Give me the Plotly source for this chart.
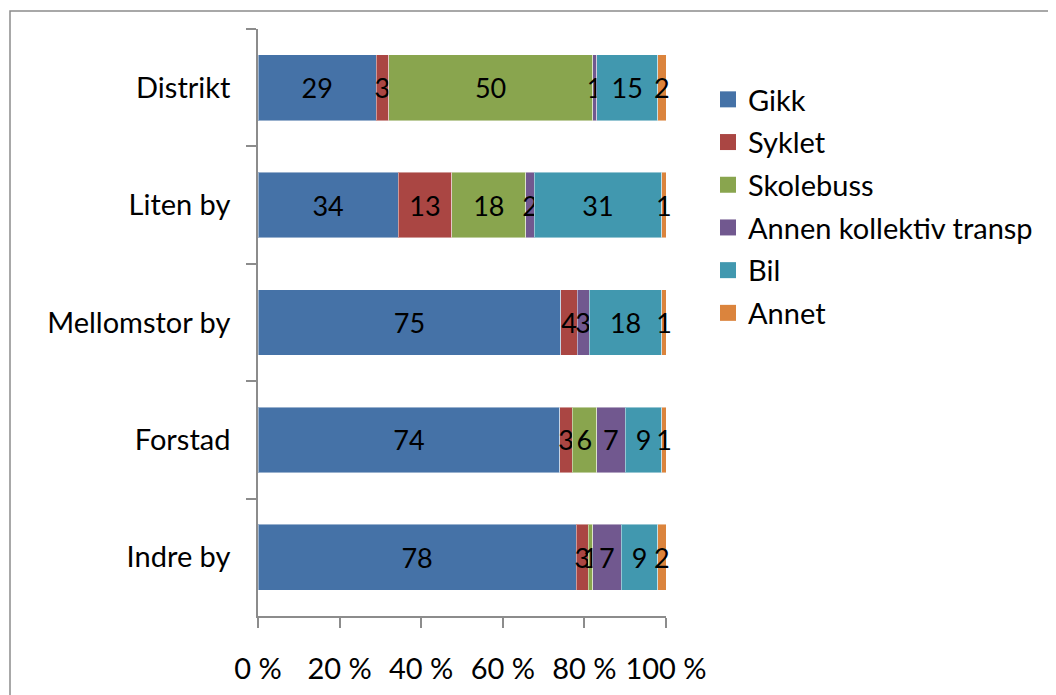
import plotly.graph_objects as go

categories = ["Distrikt", "Liten by", "Mellomstor by", "Forstad", "Indre by"]
series_names = ["Gikk", "Syklet", "Skolebuss", "Annen kollektiv transp", "Bil", "Annet"]
gikk = [29, 34, 75, 74, 78]
syklet = [3, 13, 4, 3, 3]
skolebuss = [50, 18, 0, 6, 1]
annen = [1, 2, 3, 7, 7]
bil = [15, 31, 18, 9, 9]
annet = [2, 1, 1, 1, 2]
x_ticks = [0, 20, 40, 60, 80, 100]
x_tick_labels = ["0 %", "20 %", "40 %", "60 %", "80 %", "100 %"]

series_values = [gikk, syklet, skolebuss, annen, bil, annet]
colors = ["#4572A7", "#AA4643", "#89A54E", "#71588F", "#4198AF", "#DB843D"]

OFF = 8  # page body margin
W, H = 1056, 695
# plot area in screen pixels: x 258..666, y 29..616
ML, MT = 258 - OFF, 29 - OFF
PW, PH = 666 - 258, 616 - 29
MR, MB = W - ML - PW, H - MT - PH
FONT = "Lato"
FS = 29
FS_DATA = 27

fig = go.Figure()
for name, vals, col in zip(series_names, series_values, colors):
    fig.add_trace(go.Bar(
        y=categories, x=vals, orientation="h", name=name,
        marker=dict(color=col, line=dict(color="rgba(255,255,255,0.45)", width=1)),
        text=[str(v) if v else "" for v in vals],
        textposition="inside", insidetextanchor="middle",
        textangle=0, constraintext="none",
        textfont=dict(family=FONT, size=FS_DATA, color="black"),
        cliponaxis=False, showlegend=False, hoverinfo="x+y+name",
    ))
# legend entries
for i, (name, col) in enumerate(zip(series_names, colors)):
    fig.add_trace(go.Scatter(
        x=[None], y=[None], mode="markers", name=name,
        marker=dict(symbol="square", size=16, color=col),
        legendgroup=f"g{i}", showlegend=True,
    ))

fig.update_layout(
    width=W, height=H,
    margin=dict(l=ML, r=MR, t=MT, b=MB, autoexpand=False),
    barmode="stack", barnorm="percent", bargap=0.44,
    paper_bgcolor="white", plot_bgcolor="white",
    font=dict(family=FONT, size=FS, color="black"),
    legend=dict(
        xref="container", yref="container",
        x=700 / W, y=1 - 66 / H, xanchor="left", yanchor="top",
        font=dict(family=FONT, size=FS, color="black"),
        tracegroupgap=2, bgcolor="rgba(0,0,0,0)",
    ),
    xaxis=dict(
        range=[0, 100], tickvals=x_ticks, ticktext=x_tick_labels,
        showgrid=False, zeroline=False, showline=True, linecolor="#8c8c8c", linewidth=1.5,
        ticks="outside", ticklen=10, tickcolor="#8c8c8c", tickwidth=1.5,
        ticklabelstandoff=16,
        tickfont=dict(family=FONT, size=FS, color="black"),
    ),
    yaxis=dict(
        categoryorder="array", categoryarray=categories, autorange="reversed",
        showgrid=False, zeroline=False, showline=True, linecolor="#8c8c8c", linewidth=1.5,
        ticks="outside", ticklen=10, tickcolor="#8c8c8c", tickwidth=1.5,
        tickson="boundaries", ticklabelstandoff=20,
        tickfont=dict(family=FONT, size=FS, color="black"),
    ),
    shapes=[dict(
        type="rect", xref="paper", yref="paper",
        x0=(10 - 258) / PW, x1=(1052 - 258) / PW,
        y0=-(H + 20 - 616) / PH, y1=(616 - 11) / PH,
        line=dict(color="#8c8c8c", width=1.5), layer="below",
    )],
)

fig.write_html("out.html")
